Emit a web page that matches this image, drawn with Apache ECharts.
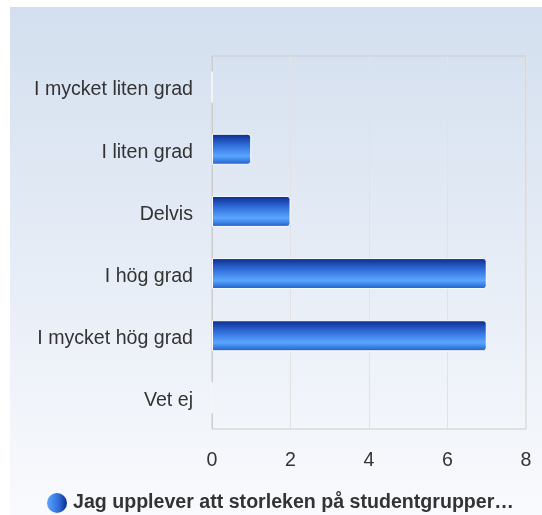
<!DOCTYPE html>
<html>
<head>
<meta charset="utf-8">
<script src="https://cdn.jsdelivr.net/npm/echarts@6/dist/echarts.min.js"></script>
<style>
  html, body { margin: 0; padding: 0; background: #fff; }
  #chart { width: 542px; height: 515px; }
</style>
</head>
<body>
<div id="chart"></div>
<script>
// svarsalternativ (uppifrån och ner)
const categories = ['I mycket liten grad', 'I liten grad', 'Delvis', 'I hög grad', 'I mycket hög grad', 'Vet ej'];
const counts = [0, 1, 2, 7, 7, 0];
const seriesName = 'Jag upplever att storleken på studentgrupper…';
const xTicks = [0, 2, 4, 6, 8];

const chart = echarts.init(document.getElementById('chart'));

const barColor = new echarts.graphic.LinearGradient(0, 0, 0, 1, [
  { offset: 0, color: '#0a2a88' },
  { offset: 0.35, color: '#2f6ad8' },
  { offset: 0.72, color: '#5aa6ff' },
  { offset: 1, color: '#1e5cc8' }
]);

const option = {
  animation: false,
  textStyle: { fontFamily: '"Liberation Sans", Arial, sans-serif' },
  graphic: [{
    type: 'rect',
    z: -10,
    shape: { x: 10, y: 7, width: 532, height: 508 },
    style: {
      fill: new echarts.graphic.LinearGradient(0, 0, 0, 1, [
        { offset: 0, color: '#d3dfef' },
        { offset: 1, color: '#f9fafd' }
      ])
    }
  }],
  grid: {
    left: 212,
    right: 16,
    top: 56,
    bottom: 86,
    show: true,
    borderColor: '#cccccc',
    borderWidth: 1,
    backgroundColor: 'transparent'
  },
  legend: {
    top: 493,
    left: 42,
    padding: [0, 5],
    itemWidth: 20,
    itemHeight: 20,
    itemGap: 6,
    icon: 'circle',
    textStyle: { fontSize: 19.6, fontWeight: 'bold', color: '#333', padding: [0, 0, 0, 1] },
    data: [{
      name: seriesName,
      itemStyle: {
        color: new echarts.graphic.LinearGradient(0, 0, 1, 0, [
          { offset: 0, color: '#5aa6ff' },
          { offset: 0.6, color: '#2f6ad8' },
          { offset: 1, color: '#0a2a88' }
        ]),
        borderWidth: 0
      }
    }]
  },
  xAxis: {
    type: 'value',
    min: 0,
    max: 8,
    interval: 2,
    axisLine: { show: false },
    axisTick: { show: false },
    splitLine: { lineStyle: { color: '#e2e2e2' } },
    axisLabel: {
      fontSize: 19.6,
      color: '#333',
      margin: 22,
      formatter: v => xTicks.includes(v) ? String(v) : ''
    }
  },
  yAxis: {
    type: 'category',
    inverse: true,
    data: categories,
    axisLine: { show: true, lineStyle: { color: '#cccccc' } },
    axisTick: { show: false },
    axisLabel: {
      margin: 19,
      formatter: v => '{t|' + v + '}',
      rich: {
        t: { fontSize: 19.6, color: '#333', padding: [6, 0, 0, 0] }
      }
    }
  },
  series: [{
    name: seriesName,
    type: 'bar',
    data: counts,
    barWidth: 31,
    itemStyle: {
      color: barColor,
      borderColor: '#ffffff',
      borderWidth: 1,
      borderRadius: [0, 3, 3, 0]
    }
  }]
};

chart.setOption(option);
</script>
</body>
</html>
